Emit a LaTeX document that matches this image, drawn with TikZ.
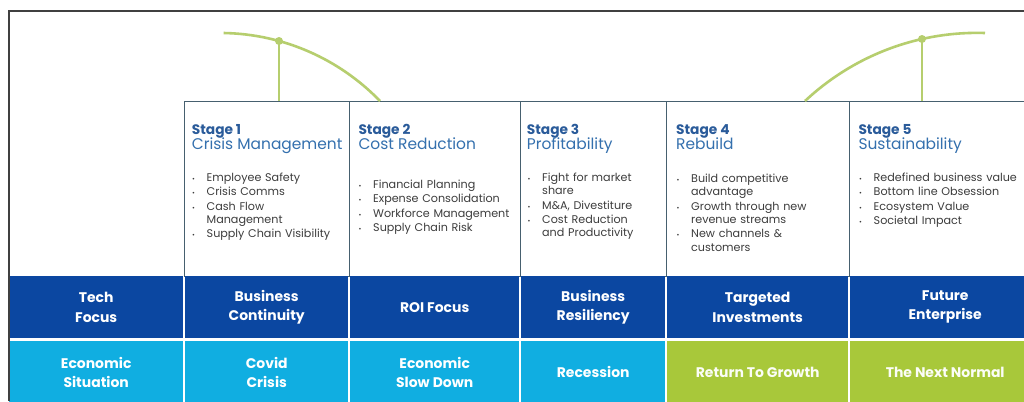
\documentclass[tikz,border=0pt]{standalone}
\usepackage{fontspec}
\setmainfont{Poppins}
\usepackage{enumitem}
\usetikzlibrary{positioning}

\definecolor{darkband}{HTML}{0B47A1}
\definecolor{lightband}{HTML}{10AEE1}
\definecolor{growgreen}{HTML}{A8C83A}
\definecolor{arcgreen}{HTML}{B6CE6E}
\definecolor{boxgray}{HTML}{46606F}
\definecolor{titleblue}{HTML}{2A5B9A}
\definecolor{subblue}{HTML}{3470AE}
\definecolor{listgray}{HTML}{3D3D3D}

\newcommand{\stagelist}[1]{\begin{itemize}[nosep,leftmargin=14.5bp,labelwidth=14.5bp,labelsep=0pt,align=left,itemsep=1bp,label={\fontsize{7}{7}\selectfont\textbullet}]#1\end{itemize}}

\begin{document}
\begin{tikzpicture}[x=1bp,y=-1bp,
	outerline/.style={draw=black!75,line width=1.1bp},
	stagebox/.style={draw=boxgray,line width=1.1bp,anchor=north west,minimum height=175bp,inner sep=0pt},
	arcline/.style={draw=arcgreen,line width=2.6bp},
	stemline/.style={draw=arcgreen,line width=1.4bp},
	arcdot/.style={circle,fill=arcgreen,inner sep=0pt,minimum size=8bp},
	stagenum/.style={anchor=base west,inner sep=0pt,text=titleblue,font=\bfseries\fontsize{13.8}{15}\selectfont},
	stagename/.style={anchor=base west,inner sep=0pt,text=subblue,font=\fontsize{15.5}{16}\selectfont},
	stagetext/.style={anchor=north west,inner sep=0pt,text width=160bp,text=listgray,font=\fontsize{11.2}{13.5}\selectfont},
	bandcell/.style={anchor=north west,inner sep=0pt,minimum height=62bp,text=white,align=center,font=\bfseries\fontsize{14}{19.5}\selectfont},
	darkcell/.style={bandcell,fill=darkband},
	lightcell/.style={bandcell,fill=lightband},
	greencell/.style={bandcell,fill=growgreen,text=white!96!growgreen}]
	\useasboundingbox (0,0) rectangle (1024,401);
	\clip (0,0) rectangle (1024,401);
	\fill[white] (0,0) rectangle (1024,401);

	%stage boxes
	\node[stagebox,minimum width=165bp] (s1) at (184,101) {};
	\node[stagebox,minimum width=171bp] (s2) at (349,101) {};
	\node[stagebox,minimum width=146bp] (s3) at (520,101) {};
	\node[stagebox,minimum width=183bp] (s4) at (666,101) {};
	\node[stagebox,minimum width=191bp] (s5) at (849,101) {};

	%green arcs
	\coordinate (dotl) at (279,41);
	\coordinate (dotr) at (922,39);
	\draw[arcline] (223.6,33) .. controls (282.7,34) and (338.9,58.5) .. (380,101); %falling arc
	\draw[arcline] (805,101) .. controls (853.7,55.4) and (918.3,30.9) .. (985,33); %rising arc
	\draw[stemline] (dotl) -- (dotl |- s1.north);
	\draw[stemline] (dotr) -- (dotr |- s5.north);
	\node[arcdot] (dotlmark) at (dotl) {};
	\node[arcdot] (dotrmark) at (dotr) {};

	%stage titles
	\node[stagenum] (t1) at (191.7,134) {Stage 1};
	\node[stagename] (n1) at (191.7,149.5) {Crisis Management};
	\node[stagenum] (t2) at (358.3,134) {Stage 2};
	\node[stagename] (n2) at (358.3,149.5) {Cost Reduction};
	\node[stagenum] (t3) at (526.7,134) {Stage 3};
	\node[stagename] (n3) at (526.7,149.5) {Profitability};
	\node[stagenum] (t4) at (676,134) {Stage 4};
	\node[stagename] (n4) at (676,149.5) {Rebuild};
	\node[stagenum] (t5) at (858.3,134) {Stage 5};
	\node[stagename] (n5) at (858.3,149.5) {Sustainability};

	%bullet lists
	\node[stagetext] (l1) at (192,167.5) {\stagelist{\item Employee Safety \item Crisis Comms \item Cash Flow\\Management \item Supply Chain Visibility}};
	\node[stagetext] (l2) at (358.5,174.5) {\stagelist{\item Financial Planning \item Expense Consolidation \item Workforce Management \item Supply Chain Risk}};
	\node[stagetext] (l3) at (527.5,167.5) {\stagelist{\item Fight for market\\share \item M\&A, Divestiture \item Cost Reduction\\and Productivity}};
	\node[stagetext] (l4) at (676.5,168.5) {\stagelist{\item Build competitive\\advantage \item Growth through new\\revenue streams \item New channels \&\\customers}};
	\node[stagetext] (l5) at (859,167.5) {\stagelist{\item Redefined business value \item Bottom line Obsession \item Ecosystem Value \item Societal Impact}};

	%focus band
	\node[darkcell,minimum width=174bp] (tech) at (9,276) {Tech\\Focus};
	\node[darkcell,minimum width=163bp] (continuity) at (185,276) {Business\\Continuity};
	\node[darkcell,minimum width=169bp] (roi) at (350,276) {ROI Focus};
	\node[darkcell,minimum width=144bp] (resiliency) at (521,276) {Business\\Resiliency};
	\node[darkcell,minimum width=181bp] (targeted) at (667,276) {Targeted\\Investments};
	\node[darkcell,minimum width=190bp] (future) at (850,276) {Future\\Enterprise};

	%situation band
	\node[lightcell,minimum width=174bp] (econ) at (9,341) {Economic\\Situation};
	\node[lightcell,minimum width=163bp] (covid) at (185,341) {Covid\\Crisis};
	\node[lightcell,minimum width=169bp] (slowdown) at (350,341) {Economic\\Slow Down};
	\node[lightcell,minimum width=144bp] (recession) at (521,341) {Recession};
	\node[greencell,minimum width=181bp] (growth) at (667,341) {Return To Growth};
	\node[greencell,minimum width=190bp] (nextnormal) at (850,341) {The Next Normal};

	%outer frame
	\draw[outerline] (9,401) -- (9,11) -- (1024,11);
\end{tikzpicture}
\end{document}
